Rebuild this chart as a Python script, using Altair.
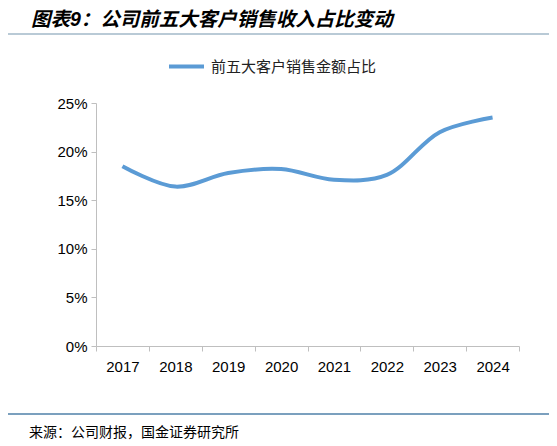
import pandas as pd
import altair as alt

years = ['2017', '2018', '2019', '2020', '2021', '2022', '2023', '2024']
share = [18.5, 16.4, 17.8, 18.2, 17.1, 17.6, 22.0, 23.5]
series_name = '前五大客户销售金额占比'

title_text = '图表9：公司前五大客户销售收入占比变动'
source_text = '来源：公司财报，国金证券研究所'

df = pd.DataFrame({'year': years, 'share': [v / 100 for v in share], 'series': series_name})

cjk = 'Noto Sans CJK SC'
latin = 'Liberation Sans'

line = alt.Chart(df).mark_line(strokeWidth=4, interpolate='catmull-rom').encode(
    x=alt.X('year:O', title=None,
            scale=alt.Scale(paddingInner=0, paddingOuter=0),
            axis=alt.Axis(labelAngle=0, tickBand='extent', labelFontSize=15, labelFont=latin,
                          labelColor='black', domainColor='#bfbfbf', tickColor='#bfbfbf',
                          tickSize=5, labelPadding=8, grid=False)),
    y=alt.Y('share:Q', title=None,
            scale=alt.Scale(domain=[0, 0.25], nice=False),
            axis=alt.Axis(format='.0%', values=[0, 0.05, 0.1, 0.15, 0.2, 0.25], labelFontSize=15,
                          labelFont=latin, labelColor='black', domainColor='#bfbfbf',
                          tickColor='#bfbfbf', tickSize=5, labelPadding=4, grid=False)),
    color=alt.Color('series:N', scale=alt.Scale(range=['#5b9bd5']),
                    legend=alt.Legend(title=None, orient='none', legendX=71, legendY=-56,
                                      symbolType='stroke', symbolSize=1225, symbolStrokeWidth=4,
                                      labelFont=cjk, labelFontSize=15, labelColor='#222222',
                                      labelOffset=5, labelLimit=400))
)

# latin font first keeps the text box inside the top edge, CJK glyphs fall back
title = alt.Chart().mark_text(align='left', baseline='middle', font=f'{latin}, {cjk}',
                              fontSize=19.5, fontWeight='bold', fontStyle='italic',
                              color='black').encode(
    x=alt.value(-65), y=alt.value(-83), text=alt.datum(title_text))

top_rule = alt.Chart().mark_rule(color='#b9cad6', strokeWidth=2).encode(
    x=alt.value(-91), x2=alt.value(456), y=alt.value(-69))

bottom_rule = alt.Chart().mark_rule(color='#4f81a8', strokeWidth=1.5).encode(
    x=alt.value(-91), x2=alt.value(456), y=alt.value(311))

source = alt.Chart().mark_text(align='left', baseline='middle', font=cjk, fontSize=14,
                               color='black').encode(
    x=alt.value(-67), y=alt.value(330), text=alt.datum(source_text))

chart = alt.layer(line, title, top_rule, bottom_rule, source).properties(
    width=423, height=243,
    autosize=alt.AutoSizeParams(type='none'),
    padding={'left': 88, 'top': 95, 'right': 30, 'bottom': 100}
).configure_view(stroke=None)

chart.save('out.html', embed_options={'renderer': 'svg', 'actions': False})
